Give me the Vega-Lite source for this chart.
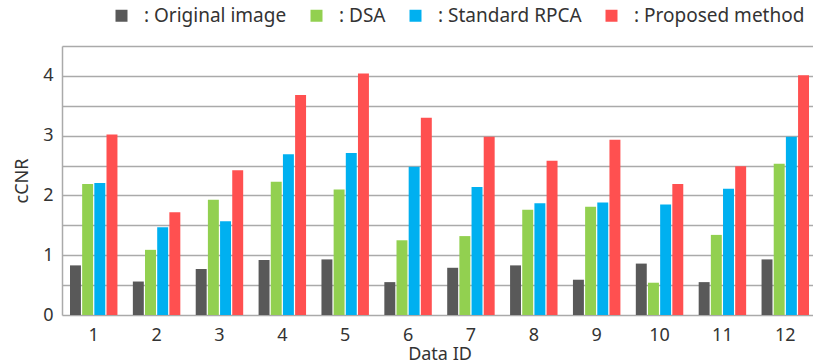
{
  "$schema": "https://vega.github.io/schema/vega-lite/v6.json",
  "width": 755,
  "height": 269,
  "autosize": {"type": "none"},
  "padding": {"left": 62, "top": 46, "right": 0, "bottom": 45},
  "background": "white",
  "config": {
    "font": "Noto Sans",
    "view": {"stroke": null},
    "axis": {"labelFont": "Noto Sans", "titleFont": "Noto Sans", "labelColor": "#333333", "titleColor": "#333333", "titleFontWeight": "normal"}
  },
  "data": {
    "values": [
      {"id": 1, "series": "Original image", "v": 0.83}, {"id": 1, "series": "DSA", "v": 2.19}, {"id": 1, "series": "Standard RPCA", "v": 2.21}, {"id": 1, "series": "Proposed method", "v": 3.02},
      {"id": 2, "series": "Original image", "v": 0.56}, {"id": 2, "series": "DSA", "v": 1.09}, {"id": 2, "series": "Standard RPCA", "v": 1.47}, {"id": 2, "series": "Proposed method", "v": 1.72},
      {"id": 3, "series": "Original image", "v": 0.77}, {"id": 3, "series": "DSA", "v": 1.93}, {"id": 3, "series": "Standard RPCA", "v": 1.57}, {"id": 3, "series": "Proposed method", "v": 2.42},
      {"id": 4, "series": "Original image", "v": 0.92}, {"id": 4, "series": "DSA", "v": 2.23}, {"id": 4, "series": "Standard RPCA", "v": 2.69}, {"id": 4, "series": "Proposed method", "v": 3.68},
      {"id": 5, "series": "Original image", "v": 0.93}, {"id": 5, "series": "DSA", "v": 2.10}, {"id": 5, "series": "Standard RPCA", "v": 2.71}, {"id": 5, "series": "Proposed method", "v": 4.04},
      {"id": 6, "series": "Original image", "v": 0.55}, {"id": 6, "series": "DSA", "v": 1.25}, {"id": 6, "series": "Standard RPCA", "v": 2.48}, {"id": 6, "series": "Proposed method", "v": 3.30},
      {"id": 7, "series": "Original image", "v": 0.79}, {"id": 7, "series": "DSA", "v": 1.32}, {"id": 7, "series": "Standard RPCA", "v": 2.14}, {"id": 7, "series": "Proposed method", "v": 2.98},
      {"id": 8, "series": "Original image", "v": 0.83}, {"id": 8, "series": "DSA", "v": 1.76}, {"id": 8, "series": "Standard RPCA", "v": 1.87}, {"id": 8, "series": "Proposed method", "v": 2.58},
      {"id": 9, "series": "Original image", "v": 0.59}, {"id": 9, "series": "DSA", "v": 1.81}, {"id": 9, "series": "Standard RPCA", "v": 1.88}, {"id": 9, "series": "Proposed method", "v": 2.93},
      {"id": 10, "series": "Original image", "v": 0.86}, {"id": 10, "series": "DSA", "v": 0.54}, {"id": 10, "series": "Standard RPCA", "v": 1.85}, {"id": 10, "series": "Proposed method", "v": 2.19},
      {"id": 11, "series": "Original image", "v": 0.55}, {"id": 11, "series": "DSA", "v": 1.34}, {"id": 11, "series": "Standard RPCA", "v": 2.11}, {"id": 11, "series": "Proposed method", "v": 2.49},
      {"id": 12, "series": "Original image", "v": 0.93}, {"id": 12, "series": "DSA", "v": 2.53}, {"id": 12, "series": "Standard RPCA", "v": 2.98}, {"id": 12, "series": "Proposed method", "v": 4.01}
    ]
  },
  "mark": {"type": "bar"},
  "encoding": {
    "x": {
      "field": "id", "type": "ordinal", "title": "Data ID",
      "scale": {"paddingInner": 0.245, "paddingOuter": 0.127},
      "axis": {"labelAngle": 0, "labelFontSize": 18, "titleFontSize": 18, "domain": false, "ticks": false, "labelPadding": 11, "titlePadding": 1}
    },
    "xOffset": {
      "field": "series", "type": "nominal",
      "sort": ["Original image", "DSA", "Standard RPCA", "Proposed method"],
      "scale": {"paddingInner": 0.1}
    },
    "y": {
      "field": "v", "type": "quantitative", "title": "cCNR",
      "scale": {"domain": [0, 4.5], "nice": false},
      "axis": {
        "values": [0, 0.5, 1, 1.5, 2, 2.5, 3, 3.5, 4, 4.5],
        "labelExpr": "datum.value % 1 == 0 ? format(datum.value, 'd') : ''",
        "labelFontSize": 18, "titleFontSize": 18, "ticks": false, "labelPadding": 9,
        "domain": true, "domainColor": "#aaaaaa", "domainWidth": 1.5,
        "grid": true, "gridColor": "#aaaaaa", "gridWidth": 1.5, "titlePadding": 11
      }
    },
    "color": {
      "field": "series", "type": "nominal",
      "sort": ["Original image", "DSA", "Standard RPCA", "Proposed method"],
      "scale": {"domain": ["Original image", "DSA", "Standard RPCA", "Proposed method"], "range": ["#595959", "#92d050", "#00b0f0", "#ff5050"]},
      "legend": {
        "title": null, "orient": "none", "direction": "horizontal",
        "legendX": 50, "legendY": -40,
        "symbolType": "square", "symbolSize": 144, "symbolStrokeWidth": 0,
        "labelExpr": "': ' + datum.label",
        "labelFontSize": 19, "labelColor": "#333333", "labelFont": "Noto Sans", "labelLimit": 0,
        "labelOffset": 13, "columnPadding": 20
      }
    }
  }
}
